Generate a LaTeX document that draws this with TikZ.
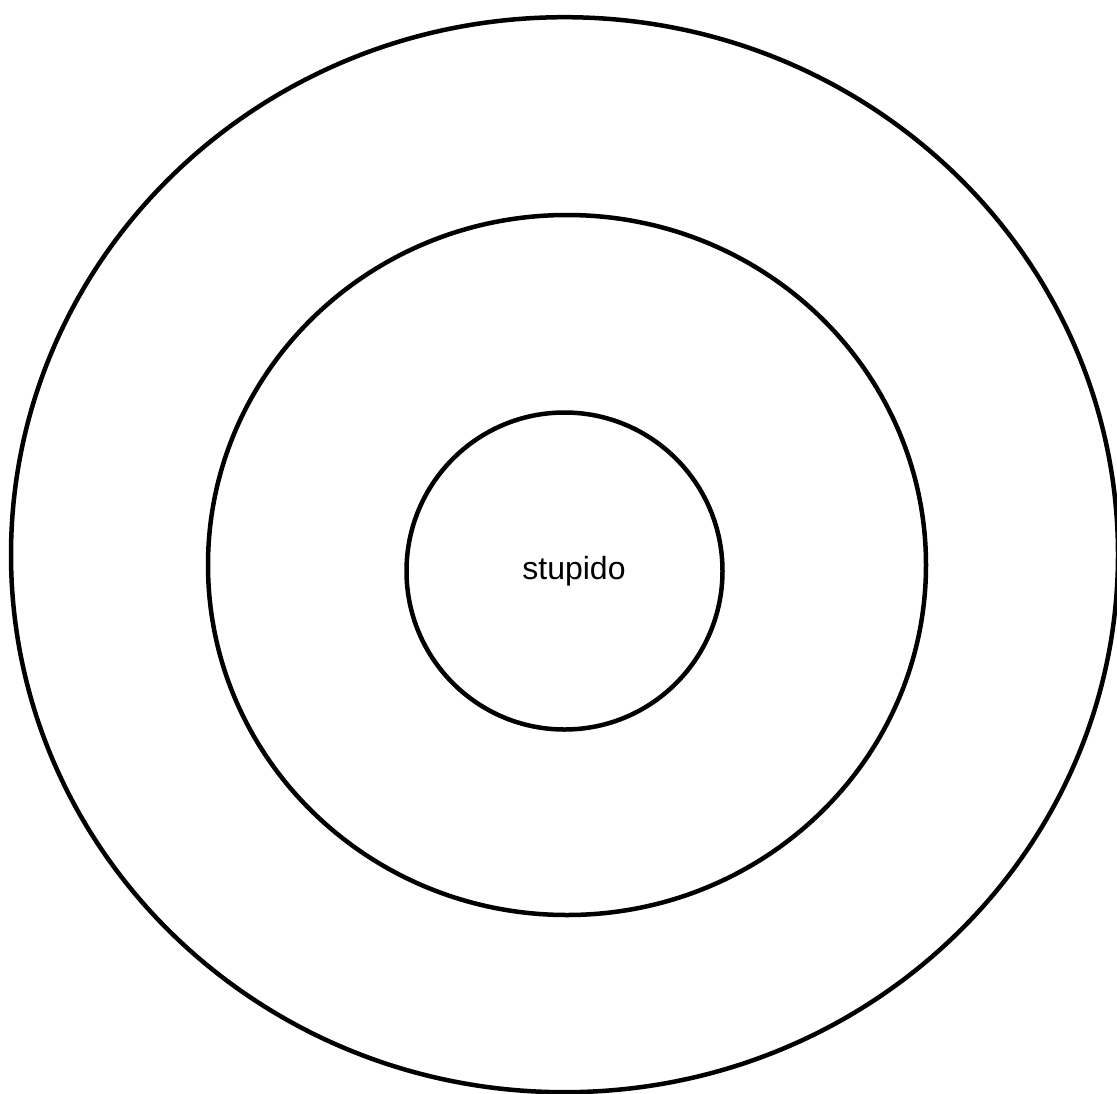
\documentclass[tikz,border=0pt]{standalone}
\usepackage{fontspec}
\setmainfont{Liberation Sans}
\usetikzlibrary{shapes.geometric}
\begin{document}
\begin{tikzpicture}[x=1pt,y=-1pt,
  ring/.style={draw=black, line width=4.5pt, ellipse, inner sep=0pt, outer sep=0pt},
  lbl/.style={font=\fontsize{32}{38}\selectfont, inner sep=0pt}]
\useasboundingbox (0,0) rectangle (1117,1093);
\node[ring, minimum width=1107pt, minimum height=1075pt] (outer) at (564.5,554.7) {};
\node[ring, minimum width=718pt, minimum height=700pt] (middle) at (567,565) {};
\node[ring, minimum width=316pt, minimum height=317pt] (inner) at (564.5,571) {};
\node[lbl] (t) at (574,571.5) {stupido};
\end{tikzpicture}
\end{document}
